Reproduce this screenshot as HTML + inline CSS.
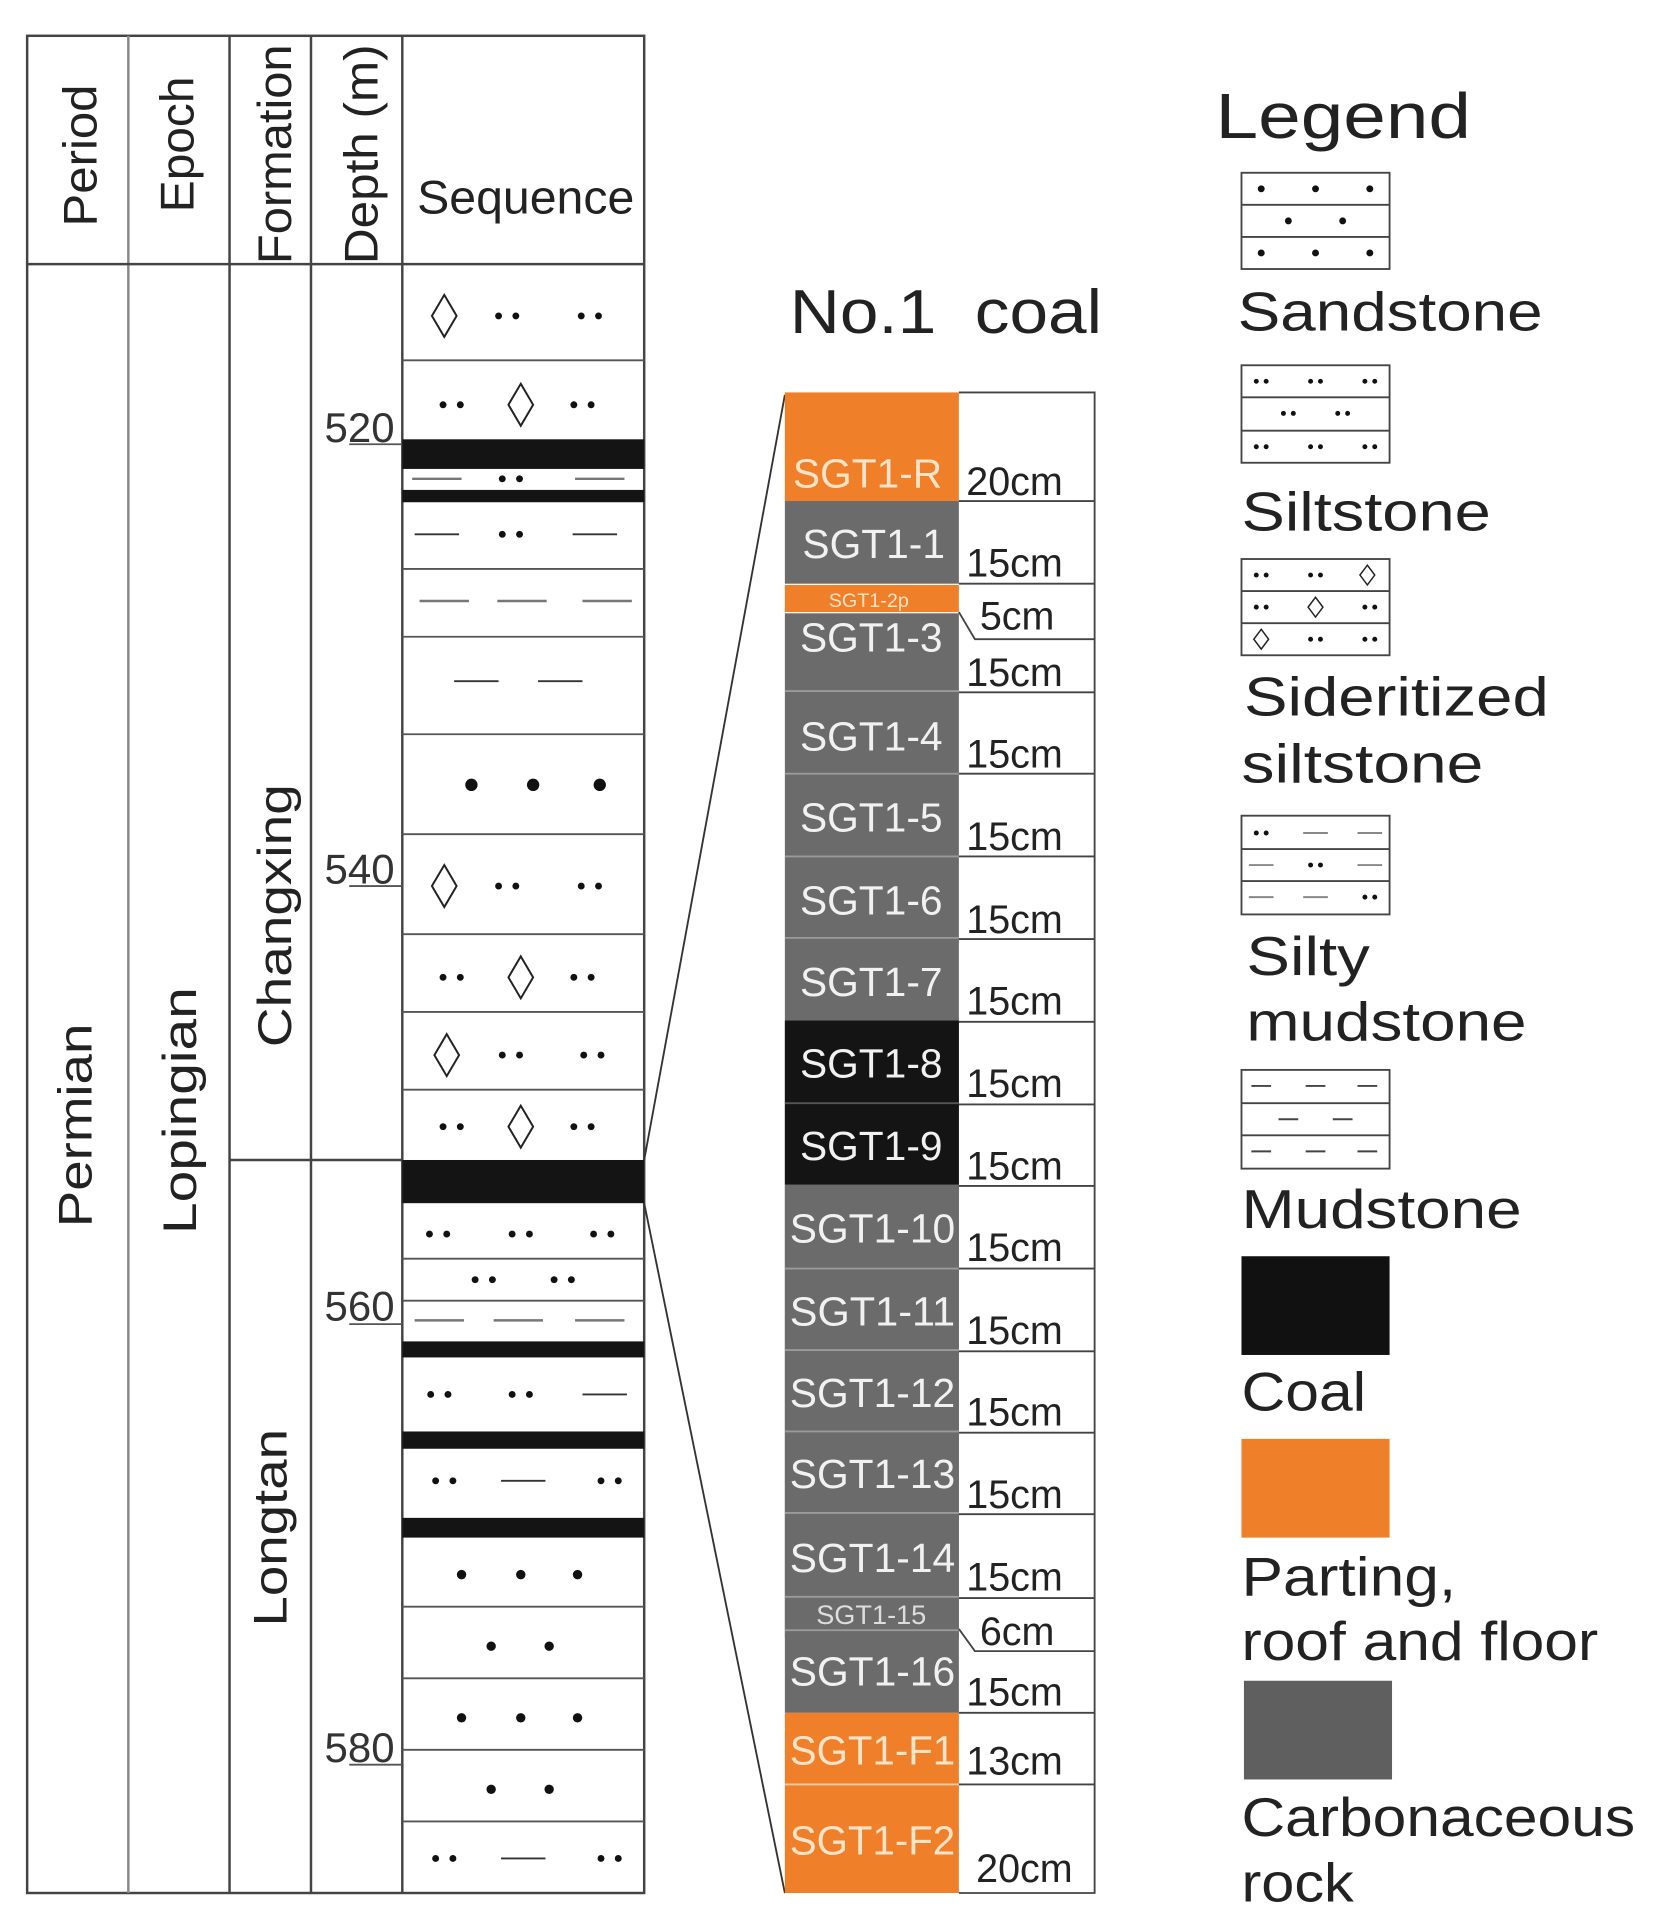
<!DOCTYPE html>
<html><head><meta charset="utf-8"><style>
html,body{margin:0;padding:0;background:#fff}
svg{display:block}
text{font-family:"Liberation Sans",Arial,sans-serif}
</style></head><body>
<svg width="1666" height="1932" viewBox="0 0 1350 1565.6" preserveAspectRatio="none" xmlns="http://www.w3.org/2000/svg">
<defs>
<g id="dp"><circle cx="-7" cy="0" r="2.8" fill="#111"/><circle cx="7" cy="0" r="2.8" fill="#111"/></g>
<g id="bd"><circle cx="0" cy="0" r="5" fill="#111"/></g>
<g id="sd"><circle cx="0" cy="0" r="3.8" fill="#111"/></g>
<g id="dm"><polygon points="0,-17 10,0 0,17 -10,0" fill="none" stroke="#222" stroke-width="1.6"/></g>
<g id="da"><line x1="-18" y1="0" x2="18" y2="0" stroke="#333" stroke-width="1.5"/></g>
<g id="dg"><line x1="-20" y1="0" x2="20" y2="0" stroke="#777" stroke-width="2"/></g>
<g id="ldp"><circle cx="-4" cy="0" r="2" fill="#111"/><circle cx="4" cy="0" r="2" fill="#111"/></g>
<g id="ldm"><polygon points="0,-8 6,0 0,8 -6,0" fill="#fff" stroke="#222" stroke-width="1.2"/></g>
<g id="lda"><line x1="-10" y1="0" x2="10" y2="0" stroke="#888" stroke-width="1.6"/></g>
</defs>

<g fill="none" stroke="#444" stroke-width="2">
<rect x="22" y="29" width="500" height="1505"/>
<line x1="104" y1="29" x2="104" y2="1534" stroke="#888"/>
<line x1="186" y1="29" x2="186" y2="1534"/>
<line x1="252" y1="29" x2="252" y2="1534"/>
<line x1="326" y1="29" x2="326" y2="1534"/>
<line x1="22" y1="214" x2="522" y2="214"/>
<line x1="186" y1="940" x2="326" y2="940"/>
</g>
<g font-size="38" fill="#222">
<text transform="translate(78,126) rotate(-90)" text-anchor="middle" textLength="115" lengthAdjust="spacingAndGlyphs">Period</text>
<text transform="translate(157,117) rotate(-90)" text-anchor="middle" textLength="110" lengthAdjust="spacingAndGlyphs">Epoch</text>
<text transform="translate(236,125) rotate(-90)" text-anchor="middle" textLength="178" lengthAdjust="spacingAndGlyphs">Formation</text>
<text transform="translate(306,125) rotate(-90)" text-anchor="middle" textLength="178" lengthAdjust="spacingAndGlyphs">Depth (m)</text>
<text x="426" y="173" text-anchor="middle" textLength="176" lengthAdjust="spacingAndGlyphs">Sequence</text>
<text transform="translate(74,912) rotate(-90)" text-anchor="middle" textLength="165" lengthAdjust="spacingAndGlyphs">Permian</text>
<text transform="translate(159,900) rotate(-90)" text-anchor="middle" textLength="200" lengthAdjust="spacingAndGlyphs">Lopingian</text>
<text transform="translate(236,742) rotate(-90)" text-anchor="middle" textLength="213" lengthAdjust="spacingAndGlyphs">Changxing</text>
<text transform="translate(232,1238) rotate(-90)" text-anchor="middle" textLength="160" lengthAdjust="spacingAndGlyphs">Longtan</text>
</g>
<g font-size="34" fill="#333">
<text x="263" y="358">520</text><text x="263" y="716">540</text><text x="263" y="1070">560</text><text x="263" y="1428">580</text>
</g>
<g stroke="#555" stroke-width="1.5">
<line x1="283" y1="360" x2="326" y2="360"/><line x1="283" y1="718" x2="326" y2="718"/><line x1="283" y1="1073" x2="326" y2="1073"/><line x1="283" y1="1430" x2="326" y2="1430"/>
</g>

<g stroke="#555" stroke-width="1.5">
<line x1="326" y1="292" x2="522" y2="292"/><line x1="326" y1="461" x2="522" y2="461"/><line x1="326" y1="516" x2="522" y2="516"/>
<line x1="326" y1="595" x2="522" y2="595"/><line x1="326" y1="676" x2="522" y2="676"/><line x1="326" y1="757" x2="522" y2="757"/>
<line x1="326" y1="820" x2="522" y2="820"/><line x1="326" y1="883" x2="522" y2="883"/><line x1="326" y1="1020" x2="522" y2="1020"/>
<line x1="326" y1="1054" x2="522" y2="1054"/><line x1="326" y1="1302" x2="522" y2="1302"/><line x1="326" y1="1360" x2="522" y2="1360"/>
<line x1="326" y1="1418" x2="522" y2="1418"/><line x1="326" y1="1476" x2="522" y2="1476"/>
</g>
<g fill="#141414">
<rect x="326" y="356" width="196" height="24"/><rect x="326" y="397" width="196" height="10"/>
<rect x="326" y="940" width="196" height="35"/><rect x="326" y="1087" width="196" height="13"/>
<rect x="326" y="1160" width="196" height="14"/><rect x="326" y="1230" width="196" height="16"/>
</g>
<use href="#dm" x="360" y="256"/><use href="#dp" x="411" y="256"/><use href="#dp" x="478" y="256"/>
<use href="#dp" x="366" y="328"/><use href="#dm" x="422" y="328"/><use href="#dp" x="472" y="328"/>
<use href="#dg" x="354" y="388"/><use href="#dp" x="414" y="388"/><use href="#dg" x="486" y="388"/>
<use href="#da" x="354" y="433"/><use href="#dp" x="414" y="433"/><use href="#da" x="482" y="433"/>
<use href="#dg" x="360" y="487"/><use href="#dg" x="423" y="487"/><use href="#dg" x="492" y="487"/>
<use href="#da" x="386" y="552"/><use href="#da" x="454" y="552"/>
<use href="#bd" x="382" y="636"/><use href="#bd" x="432" y="636"/><use href="#bd" x="486" y="636"/>
<use href="#dm" x="360" y="718"/><use href="#dp" x="411" y="718"/><use href="#dp" x="478" y="718"/>
<use href="#dp" x="366" y="792"/><use href="#dm" x="422" y="792"/><use href="#dp" x="472" y="792"/>
<use href="#dm" x="362" y="855"/><use href="#dp" x="414" y="855"/><use href="#dp" x="480" y="855"/>
<use href="#dp" x="366" y="913"/><use href="#dm" x="422" y="913"/><use href="#dp" x="472" y="913"/>
<use href="#dp" x="355" y="1000"/><use href="#dp" x="422" y="1000"/><use href="#dp" x="488" y="1000"/>
<use href="#dp" x="392" y="1037"/><use href="#dp" x="456" y="1037"/>
<use href="#dg" x="356" y="1070"/><use href="#dg" x="420" y="1070"/><use href="#dg" x="486" y="1070"/>
<use href="#dp" x="356" y="1130"/><use href="#dp" x="422" y="1130"/><use href="#da" x="490" y="1130"/>
<use href="#dp" x="360" y="1200"/><use href="#da" x="424" y="1200"/><use href="#dp" x="494" y="1200"/>
<use href="#sd" x="374" y="1276"/><use href="#sd" x="422" y="1276"/><use href="#sd" x="468" y="1276"/>
<use href="#sd" x="398" y="1334"/><use href="#sd" x="445" y="1334"/>
<use href="#sd" x="374" y="1392"/><use href="#sd" x="422" y="1392"/><use href="#sd" x="468" y="1392"/>
<use href="#sd" x="398" y="1450"/><use href="#sd" x="445" y="1450"/>
<use href="#dp" x="360" y="1506"/><use href="#da" x="424" y="1506"/><use href="#dp" x="494" y="1506"/>

<line x1="522" y1="940" x2="636" y2="320" stroke="#333" stroke-width="1.5"/>
<line x1="522" y1="975" x2="636" y2="1534" stroke="#333" stroke-width="1.5"/>

<text x="640" y="270" font-size="50" fill="#222" textLength="253" lengthAdjust="spacingAndGlyphs" xml:space="preserve">No.1  coal</text>
<g>
<rect x="636" y="318" width="141" height="88" fill="#f07f2a"/>
<rect x="636" y="406" width="141" height="67" fill="#6b6b6b"/>
<rect x="636" y="474" width="141" height="22" fill="#f07f2a"/>
<rect x="636" y="497" width="141" height="830" fill="#6b6b6b"/>
<rect x="636" y="827" width="141" height="133" fill="#141414"/>
<rect x="636" y="960" width="141" height="428" fill="#6b6b6b"/>
<rect x="636" y="1388" width="141" height="146" fill="#f07f2a"/>
</g>
<g stroke="#9a9a9a" stroke-width="1.5">
<line x1="636" y1="560" x2="777" y2="560"/><line x1="636" y1="627" x2="777" y2="627"/><line x1="636" y1="694" x2="777" y2="694"/>
<line x1="636" y1="760" x2="777" y2="760"/><line x1="636" y1="894" x2="777" y2="894" stroke="#555"/><line x1="636" y1="1028" x2="777" y2="1028"/>
<line x1="636" y1="1094" x2="777" y2="1094"/><line x1="636" y1="1160" x2="777" y2="1160"/><line x1="636" y1="1226" x2="777" y2="1226"/>
<line x1="636" y1="1294" x2="777" y2="1294"/><line x1="636" y1="1321" x2="777" y2="1321"/><line x1="636" y1="1446" x2="777" y2="1446" stroke="#f8c9a0"/>
</g>
<g font-size="33" fill="#f1f1f1" text-anchor="middle">
<text x="703" y="395" fill="#fde3c8">SGT1-R</text>
<text x="708" y="452">SGT1-1</text>
<text x="706" y="528">SGT1-3</text>
<text x="706" y="608">SGT1-4</text>
<text x="706" y="674">SGT1-5</text>
<text x="706" y="741">SGT1-6</text>
<text x="706" y="807">SGT1-7</text>
<text x="706" y="873">SGT1-8</text>
<text x="706" y="940">SGT1-9</text>
<text x="707" y="1007" textLength="134" lengthAdjust="spacingAndGlyphs">SGT1-10</text>
<text x="707" y="1074" textLength="134" lengthAdjust="spacingAndGlyphs">SGT1-11</text>
<text x="707" y="1140" textLength="134" lengthAdjust="spacingAndGlyphs">SGT1-12</text>
<text x="707" y="1206" textLength="134" lengthAdjust="spacingAndGlyphs">SGT1-13</text>
<text x="707" y="1274" textLength="134" lengthAdjust="spacingAndGlyphs">SGT1-14</text>
<text x="707" y="1366" textLength="134" lengthAdjust="spacingAndGlyphs">SGT1-16</text>
<text x="707" y="1430" fill="#fde3c8" textLength="134" lengthAdjust="spacingAndGlyphs">SGT1-F1</text>
<text x="707" y="1503" fill="#fde3c8" textLength="134" lengthAdjust="spacingAndGlyphs">SGT1-F2</text>
</g>
<text x="704" y="492" font-size="16" fill="#fde3c8" text-anchor="middle">SGT1-2p</text>
<text x="706" y="1316" font-size="22" fill="#ddd" text-anchor="middle">SGT1-15</text>

<g stroke="#444" stroke-width="1.5" fill="none">
<polyline points="777,318 887,318 887,1534 777,1534"/>
<line x1="777" y1="406" x2="887" y2="406"/><line x1="777" y1="473" x2="887" y2="473"/>
<polyline points="777,496 790,518 887,518"/>
<line x1="777" y1="561" x2="887" y2="561"/><line x1="777" y1="627" x2="887" y2="627"/>
<line x1="777" y1="694" x2="887" y2="694"/><line x1="777" y1="761" x2="887" y2="761"/>
<line x1="777" y1="828" x2="887" y2="828"/><line x1="777" y1="895" x2="887" y2="895"/>
<line x1="777" y1="961" x2="887" y2="961"/><line x1="777" y1="1028" x2="887" y2="1028"/>
<line x1="777" y1="1095" x2="887" y2="1095"/><line x1="777" y1="1161" x2="887" y2="1161"/>
<line x1="777" y1="1227" x2="887" y2="1227"/><line x1="777" y1="1295" x2="887" y2="1295"/>
<polyline points="777,1320 790,1338 887,1338"/>
<line x1="777" y1="1388" x2="887" y2="1388"/><line x1="777" y1="1446" x2="887" y2="1446"/>
</g>
<g font-size="32" fill="#222">
<text x="783" y="401">20cm</text><text x="783" y="467">15cm</text><text x="794" y="510">5cm</text>
<text x="783" y="556">15cm</text><text x="783" y="622">15cm</text><text x="783" y="689">15cm</text>
<text x="783" y="756">15cm</text><text x="783" y="822">15cm</text><text x="783" y="889">15cm</text>
<text x="783" y="956">15cm</text><text x="783" y="1022">15cm</text><text x="783" y="1089">15cm</text>
<text x="783" y="1155">15cm</text><text x="783" y="1222">15cm</text><text x="783" y="1289">15cm</text>
<text x="794" y="1333">6cm</text><text x="783" y="1382">15cm</text><text x="783" y="1438">13cm</text>
<text x="791" y="1525">20cm</text>
</g>

<text x="985" y="112" font-size="52" fill="#222" textLength="207" lengthAdjust="spacingAndGlyphs">Legend</text>
<g stroke="#444" stroke-width="1.5" fill="none">
<rect x="1006" y="140" width="120" height="78"/><line x1="1006" y1="166" x2="1126" y2="166"/><line x1="1006" y1="192" x2="1126" y2="192"/>
<rect x="1006" y="296" width="120" height="79"/><line x1="1006" y1="322" x2="1126" y2="322"/><line x1="1006" y1="349" x2="1126" y2="349"/>
<rect x="1006" y="453" width="120" height="78"/><line x1="1006" y1="479" x2="1126" y2="479"/><line x1="1006" y1="505" x2="1126" y2="505"/>
<rect x="1006" y="661" width="120" height="80"/><line x1="1006" y1="688" x2="1126" y2="688"/><line x1="1006" y1="714" x2="1126" y2="714"/>
<rect x="1006" y="867" width="120" height="80"/><line x1="1006" y1="894" x2="1126" y2="894"/><line x1="1006" y1="920" x2="1126" y2="920"/>
</g>
<g fill="#111">
<circle cx="1022" cy="153" r="2.8"/><circle cx="1066" cy="153" r="2.8"/><circle cx="1110" cy="153" r="2.8"/>
<circle cx="1044" cy="179" r="2.8"/><circle cx="1088" cy="179" r="2.8"/>
<circle cx="1022" cy="205" r="2.8"/><circle cx="1066" cy="205" r="2.8"/><circle cx="1110" cy="205" r="2.8"/>
</g>
<use href="#ldp" x="1022" y="309"/><use href="#ldp" x="1066" y="309"/><use href="#ldp" x="1110" y="309"/>
<use href="#ldp" x="1044" y="335"/><use href="#ldp" x="1088" y="335"/>
<use href="#ldp" x="1022" y="362"/><use href="#ldp" x="1066" y="362"/><use href="#ldp" x="1110" y="362"/>
<use href="#ldp" x="1022" y="466"/><use href="#ldp" x="1066" y="466"/><use href="#ldm" x="1108" y="466"/>
<use href="#ldp" x="1022" y="492"/><use href="#ldm" x="1066" y="492"/><use href="#ldp" x="1110" y="492"/>
<use href="#ldm" x="1022" y="518"/><use href="#ldp" x="1066" y="518"/><use href="#ldp" x="1110" y="518"/>
<use href="#ldp" x="1022" y="675"/><use href="#lda" x="1066" y="675"/><use href="#lda" x="1110" y="675"/>
<use href="#lda" x="1022" y="701"/><use href="#ldp" x="1066" y="701"/><use href="#lda" x="1110" y="701"/>
<use href="#lda" x="1022" y="727"/><use href="#lda" x="1066" y="727"/><use href="#ldp" x="1110" y="727"/>
<g stroke="#444" stroke-width="1.6">
<line x1="1014" y1="880" x2="1030" y2="880"/><line x1="1058" y1="880" x2="1074" y2="880"/><line x1="1100" y1="880" x2="1116" y2="880"/>
<line x1="1036" y1="907" x2="1052" y2="907"/><line x1="1080" y1="907" x2="1096" y2="907"/>
<line x1="1014" y1="933" x2="1030" y2="933"/><line x1="1058" y1="933" x2="1074" y2="933"/><line x1="1100" y1="933" x2="1116" y2="933"/>
</g>
<rect x="1006" y="1018" width="120" height="80" fill="#111"/>
<rect x="1006" y="1166" width="120" height="80" fill="#f07f2a"/>
<rect x="1008" y="1362" width="120" height="80" fill="#5f5f5f"/>
<g font-size="44" fill="#222">
<text x="1003" y="268" textLength="247" lengthAdjust="spacingAndGlyphs">Sandstone</text>
<text x="1006" y="430" textLength="202" lengthAdjust="spacingAndGlyphs">Siltstone</text>
<text x="1008" y="580" textLength="247" lengthAdjust="spacingAndGlyphs">Sideritized</text>
<text x="1006" y="634" textLength="196" lengthAdjust="spacingAndGlyphs">siltstone</text>
<text x="1010" y="790" textLength="100" lengthAdjust="spacingAndGlyphs">Silty</text>
<text x="1010" y="843" textLength="227" lengthAdjust="spacingAndGlyphs">mudstone</text>
<text x="1006" y="995" textLength="227" lengthAdjust="spacingAndGlyphs">Mudstone</text>
<text x="1006" y="1143" textLength="101" lengthAdjust="spacingAndGlyphs">Coal</text>
<text x="1006" y="1293" textLength="174" lengthAdjust="spacingAndGlyphs">Parting,</text>
<text x="1006" y="1345" textLength="289" lengthAdjust="spacingAndGlyphs">roof and floor</text>
<text x="1006" y="1488" textLength="319" lengthAdjust="spacingAndGlyphs">Carbonaceous</text>
<text x="1006" y="1541" textLength="91" lengthAdjust="spacingAndGlyphs">rock</text>
</g>
</svg>
</body></html>
